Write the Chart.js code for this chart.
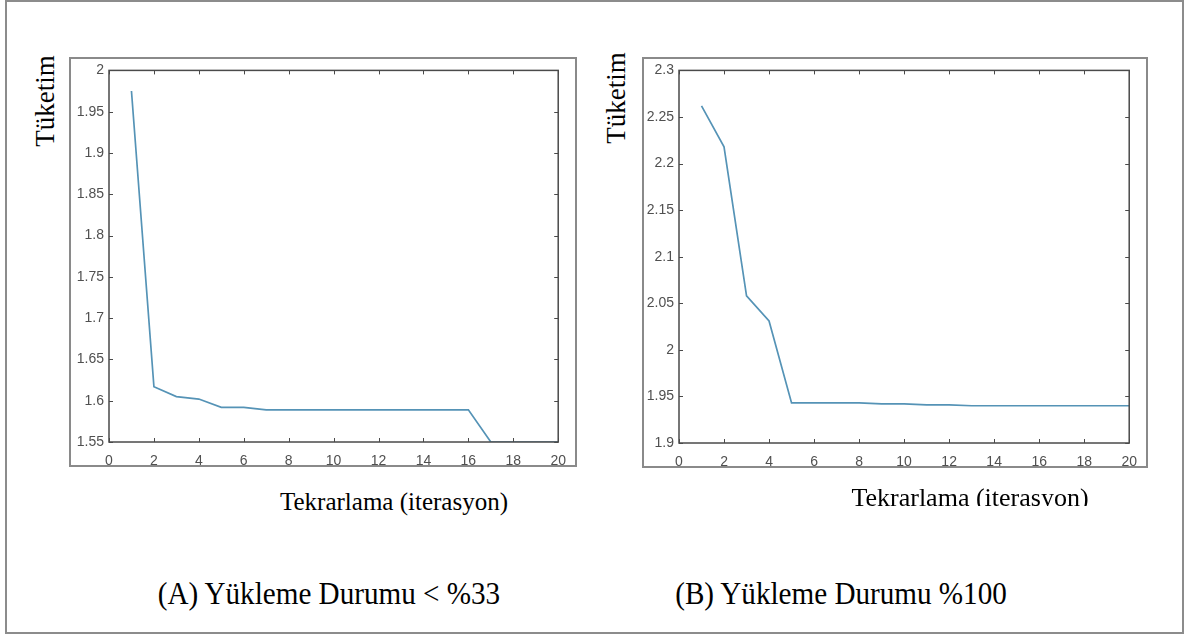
<!DOCTYPE html>
<html>
<head>
<meta charset="utf-8">
<script src="https://cdn.jsdelivr.net/npm/chart.js@4.4.1/dist/chart.umd.min.js"></script>
<style>
  body { margin: 0; background: #fff; width: 1184px; height: 637px; position: relative; overflow: hidden; }
  .frame { position: absolute; left: 5px; top: 0px; width: 1175px; height: 630px; border: 2px solid #8c8c8c; }
  .figbox { position: absolute; border: 2px solid #8a8a8a; box-sizing: border-box; pointer-events: none; }
  canvas { position: absolute; }
  .txt { position: absolute; font-family: "Liberation Serif", "Times New Roman", serif; color: #000; white-space: nowrap; transform: translate(-50%, -50%); }
  .ylab { transform: translate(-50%, -50%) rotate(-90deg); }
  .cap { transform: translate(-50%, -50%) scaleX(0.94); }
  .clip { position: absolute; overflow: hidden; }
</style>
</head>
<body>
<div class="frame"></div>

<canvas id="chartA" width="508" height="410" style="left:69px; top:57px;"></canvas>
<div class="figbox" style="left:69px; top:57px; width:508px; height:410px;"></div>

<canvas id="chartB" width="506" height="411" style="left:642px; top:57px;"></canvas>
<div class="figbox" style="left:642px; top:57px; width:506px; height:411px;"></div>

<div class="txt ylab" style="left:45px; top:101px; font-size:27px;">Tüketim</div>
<div class="txt ylab" style="left:616px; top:98px; font-size:27px;">Tüketim</div>
<div class="txt" style="left:394px; top:502px; font-size:25px;">Tekrarlama (iterasyon)</div>
<div class="clip" style="left:800px; top:470px; width:340px; height:36px;">
  <div class="txt" style="left:170px; top:28px; font-size:26px;">Tekrarlama (iterasyon)</div>
</div>
<div class="txt cap" style="left:329px; top:594px; font-size:31px;">(A) Yükleme Durumu &lt; %33</div>
<div class="txt cap" style="left:841px; top:594px; font-size:31px;">(B) Yükleme Durumu %100</div>

<script>
// iteration numbers on the x axis
const iterations = [1, 2, 3, 4, 5, 6, 7, 8, 9, 10, 11, 12, 13, 14, 15, 16, 17, 18, 19, 20];

// (A) loading < %33
const loadA = [1.975, 1.617, 1.605, 1.602, 1.592, 1.592, 1.589, 1.589, 1.589, 1.589,
               1.589, 1.589, 1.589, 1.589, 1.589, 1.589, 1.55, 1.55, 1.55, 1.55];

// (B) loading %100
const loadB = [2.262, 2.218, 2.058, 2.031, 1.943, 1.943, 1.943, 1.943, 1.942, 1.942,
               1.941, 1.941, 1.940, 1.940, 1.940, 1.940, 1.940, 1.940, 1.940, 1.940];

const xTicks = [0, 2, 4, 6, 8, 10, 12, 14, 16, 18, 20];
const yRangeA = [1.55, 2];
const yRangeB = [1.9, 2.3];

// MATLAB-like box with inward tick marks on all four sides
const matlabBox = {
  id: 'matlabBox',
  afterDraw(chart) {
    const ctx = chart.ctx;
    const a = chart.chartArea;
    const xs = chart.scales.x, ys = chart.scales.y;
    ctx.save();
    ctx.strokeStyle = '#4a4a4a';
    ctx.lineWidth = 1.5;
    ctx.strokeRect(a.left, a.top, a.right - a.left, a.bottom - a.top);
    ctx.lineWidth = 1;
    ctx.beginPath();
    for (let t of xs.ticks) {
      let px = Math.round(xs.getPixelForValue(t.value)) + 0.5;
      ctx.moveTo(px, a.bottom); ctx.lineTo(px, a.bottom - 4);
      ctx.moveTo(px, a.top); ctx.lineTo(px, a.top + 4);
    }
    for (let t of ys.ticks) {
      let py = Math.round(ys.getPixelForValue(t.value)) + 0.5;
      ctx.moveTo(a.left, py); ctx.lineTo(a.left + 4, py);
      ctx.moveTo(a.right, py); ctx.lineTo(a.right - 4, py);
    }
    ctx.stroke();
    ctx.restore();
  }
};

function makeChart(id, values, yRange, pad, yWidth) {
  const points = iterations.map((x, i) => ({ x: x, y: values[i] }));
  const tickFont = { family: 'Liberation Sans', size: 14 };
  new Chart(document.getElementById(id), {
    type: 'line',
    data: {
      datasets: [{
        data: points,
        borderColor: '#5593b6',
        borderWidth: 1.7,
        pointRadius: 0,
        tension: 0,
        fill: false
      }]
    },
    options: {
      responsive: false,
      animation: false,
      devicePixelRatio: 1,
      layout: { padding: pad },
      plugins: { legend: { display: false }, tooltip: { enabled: false } },
      scales: {
        x: {
          type: 'linear',
          min: 0, max: 20,
          afterBuildTicks: s => { s.ticks = xTicks.map(v => ({ value: v })); },
          afterFit: s => { s.height = 25; },
          grid: { display: false, drawTicks: false },
          border: { display: false },
          ticks: { color: '#505050', font: tickFont, padding: 11, maxRotation: 0 }
        },
        y: {
          min: yRange[0], max: yRange[1],
          afterFit: s => { s.width = yWidth; },
          grid: { display: false, drawTicks: false },
          border: { display: false },
          ticks: {
            stepSize: 0.05,
            color: '#505050', font: tickFont, padding: 5,
            callback: v => String(Number(v.toFixed(2)))
          }
        }
      }
    },
    plugins: [matlabBox]
  });
}

makeChart('chartA', loadA, yRangeA, { top: 8, right: 11, left: 0, bottom: 0 }, 40);
makeChart('chartB', loadB, yRangeB, { top: 9, right: 10, left: 0, bottom: 0 }, 37);
</script>
</body>
</html>
